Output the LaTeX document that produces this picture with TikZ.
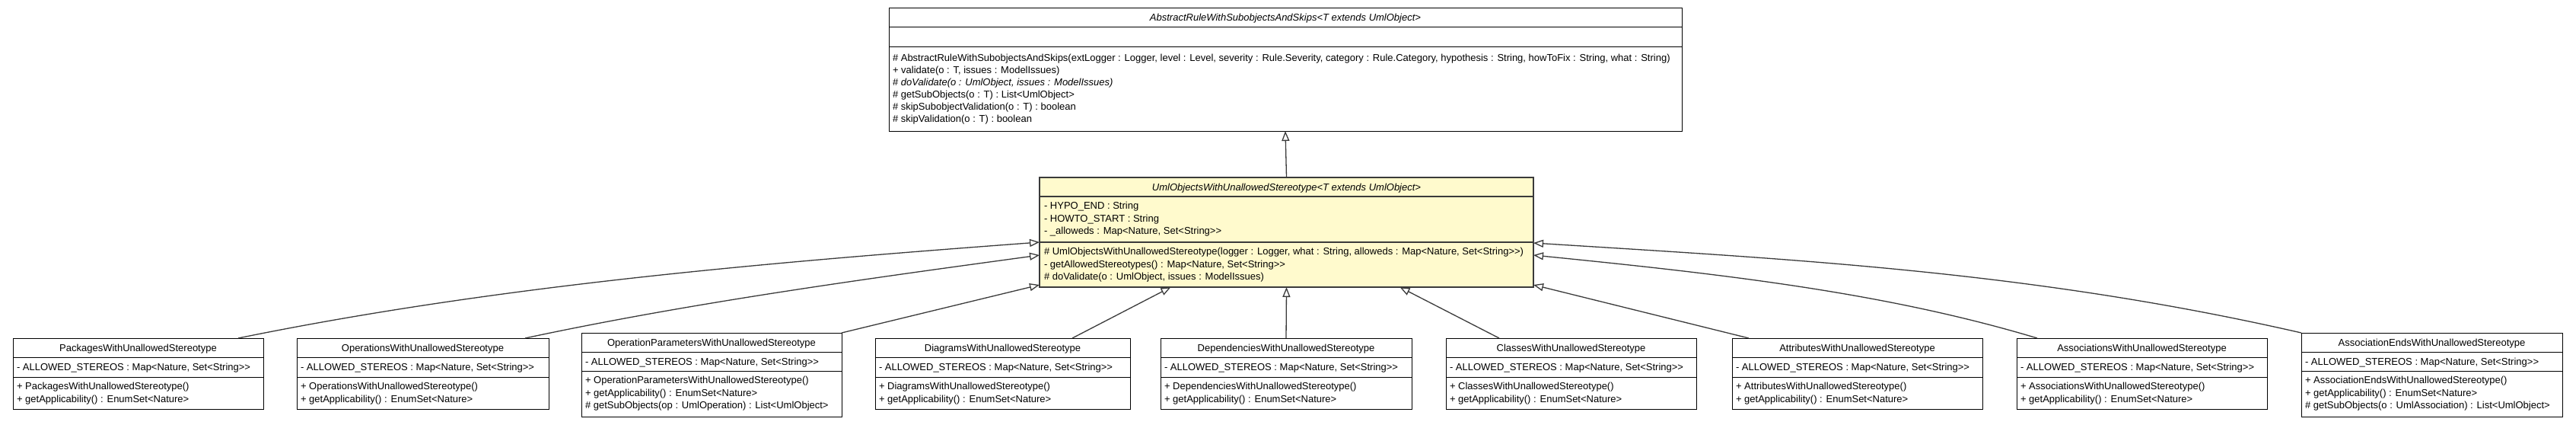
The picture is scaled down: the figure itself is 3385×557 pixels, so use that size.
\documentclass[tikz,border=0pt]{standalone}
\usepackage{fontspec}
\setmainfont{Liberation Sans}
\usetikzlibrary{arrows.meta,calc}
\definecolor{umlyellow}{HTML}{FFFACD}
\definecolor{lineg}{HTML}{3A3A3A}
\tikzset{
  classbox/.style={draw=black, line width=1pt, fill=white, inner sep=0pt, outer sep=0pt, anchor=north west},
  mainbox/.style={draw=lineg, line width=1.8pt, fill=umlyellow, inner sep=0pt, outer sep=0pt, anchor=north west},
  divider/.style={draw=black, line width=1pt},
  maindiv/.style={draw=lineg, line width=1.8pt},
  txt/.style={inner sep=0pt, outer sep=0pt, font=\fontsize{13}{16}\selectfont, anchor=base west},
  ttl/.style={txt, anchor=base},
  inh/.style={draw=lineg, line width=1.3pt, -{Triangle[open, length=13pt, width=10pt, line width=1.3pt]}},
}
\newcommand{\stdcls}[4]{%
  \node[classbox, minimum width={(#3-#2)*1pt}, minimum height=93pt] (#1) at (#2,444) {};
  \draw[divider] (#2,469) -- (#3,469);
  \draw[divider] (#2,495) -- (#3,495);
  \node[ttl] (#1-t) at ({(#2+#3)/2},461) {#4};
  \node[txt] (#1-a) at ({#2+5},486.5) {- ALLOWED\_STEREOS : Map<Nature, Set<String>{}>};
  \node[txt] (#1-m1) at ({#2+5},511.7) {+ #4()};
  \node[txt] (#1-m2) at ({#2+5},528.2) {+ getApplicability() : EnumSet<Nature>};
}
\newcommand{\bigcls}[5]{%
  \node[classbox, minimum width={(#3-#2)*1pt}, minimum height=110pt] (#1) at (#2,437) {};
  \draw[divider] (#2,462) -- (#3,462);
  \draw[divider] (#2,487) -- (#3,487);
  \node[ttl] (#1-t) at ({(#2+#3)/2},454) {#4};
  \node[txt] (#1-a) at ({#2+5},479.5) {- ALLOWED\_STEREOS : Map<Nature, Set<String>{}>};
  \node[txt] (#1-m1) at ({#2+5},503.7) {+ #4()};
  \node[txt] (#1-m2) at ({#2+5},520.2) {+ getApplicability() : EnumSet<Nature>};
  \node[txt] (#1-m3) at ({#2+5},536.7) {#5};
}
\begin{document}
\begin{tikzpicture}[x=1pt,y=-1pt]
\useasboundingbox (0,0) rectangle (3385,557);
% abstract super class
\node[classbox, minimum width=1042pt, minimum height=162pt] (abs) at (1168,10) {};
\draw[divider] (1168,35) -- (2210,35);
\draw[divider] (1168,61) -- (2210,61);
\node[ttl] (abs-t) at (1689,27) {\itshape AbstractRuleWithSubobjectsAndSkips<T extends UmlObject>};
\node[txt] (abs-m1) at (1173,80.7) {\# AbstractRuleWithSubobjectsAndSkips(extLogger : Logger, level : Level, severity : Rule.Severity, category : Rule.Category, hypothesis : String, howToFix : String, what : String)};
\node[txt] (abs-m2) at (1173,96.6) {+ validate(o : T, issues : ModelIssues)};
\node[txt] (abs-m3) at (1173,112.5) {\# \textit{doValidate(o : UmlObject, issues : ModelIssues)}};
\node[txt] (abs-m4) at (1173,128.4) {\# getSubObjects(o : T) : List<UmlObject>};
\node[txt] (abs-m5) at (1173,144.3) {\# skipSubobjectValidation(o : T) : boolean};
\node[txt] (abs-m6) at (1173,160.2) {\# skipValidation(o : T) : boolean};
% main class
\node[mainbox, minimum width=649pt, minimum height=144pt] (uml) at (1366,233) {};
\draw[maindiv] (1366,258) -- (2015,258);
\draw[maindiv] (1366,318) -- (2015,318);
\node[ttl] (uml-t) at (1690.5,250) {\itshape UmlObjectsWithUnallowedStereotype<T extends UmlObject>};
\node[txt] (uml-a1) at (1372,274.7) {- HYPO\_END : String};
\node[txt] (uml-a2) at (1372,291.2) {- HOWTO\_START : String};
\node[txt] (uml-a3) at (1372,307.7) {- \_alloweds : Map<Nature, Set<String>{}>};
\node[txt] (uml-m1) at (1372,334.7) {\# UmlObjectsWithUnallowedStereotype(logger : Logger, what : String, alloweds : Map<Nature, Set<String>{}>)};
\node[txt] (uml-m2) at (1372,351.2) {- getAllowedStereotypes() : Map<Nature, Set<String>{}>};
\node[txt] (uml-m3) at (1372,367.7) {\# doValidate(o : UmlObject, issues : ModelIssues)};
% sub classes
\stdcls{pkg}{17}{346}{PackagesWithUnallowedStereotype}
\stdcls{ops}{390}{721}{OperationsWithUnallowedStereotype}
\bigcls{opp}{764}{1106}{OperationParametersWithUnallowedStereotype}{\# getSubObjects(op : UmlOperation) : List<UmlObject>}
\stdcls{dia}{1150}{1485}{DiagramsWithUnallowedStereotype}
\stdcls{dep}{1525}{1855}{DependenciesWithUnallowedStereotype}
\stdcls{cls}{1900}{2229}{ClassesWithUnallowedStereotype}
\stdcls{att}{2276}{2605}{AttributesWithUnallowedStereotype}
\stdcls{asc}{2650}{2979}{AssociationsWithUnallowedStereotype}
\bigcls{aen}{3024}{3367}{AssociationEndsWithUnallowedStereotype}{\# getSubObjects(o : UmlAssociation) : List<UmlObject>}
% generalizations
\draw[inh] (uml.north) -- (abs.south);
\draw[inh] (dep.north) -- (uml.south);
\draw[inh] ([xshift=91.5pt]dia.north) -- ([xshift=-152pt]uml.south);
\draw[inh] ([xshift=-94.5pt]cls.north) -- ([xshift=149pt]uml.south);
\draw[inh] (opp.north east) -- ([yshift=3pt]uml.south west);
\draw[inh] ([xshift=-142.5pt]att.north) -- ([yshift=3pt]uml.south east);
\draw[inh] ([xshift=131.5pt]pkg.north) .. controls +(343,-70) and +(-349,26) .. ([yshift=-13pt]uml.west);
\draw[inh] ([xshift=134.5pt]ops.north) .. controls +(220,-47) and +(-220,30) .. ([yshift=-30pt]uml.west);
\draw[inh] ([xshift=-137.5pt]asc.north) .. controls +(-200,-60) and +(250,25) .. ([yshift=-30pt]uml.east);
\draw[inh] (aen.north west) .. controls +(-350,-80) and +(350,22) .. ([yshift=-14pt]uml.east);
\end{tikzpicture}
\end{document}
